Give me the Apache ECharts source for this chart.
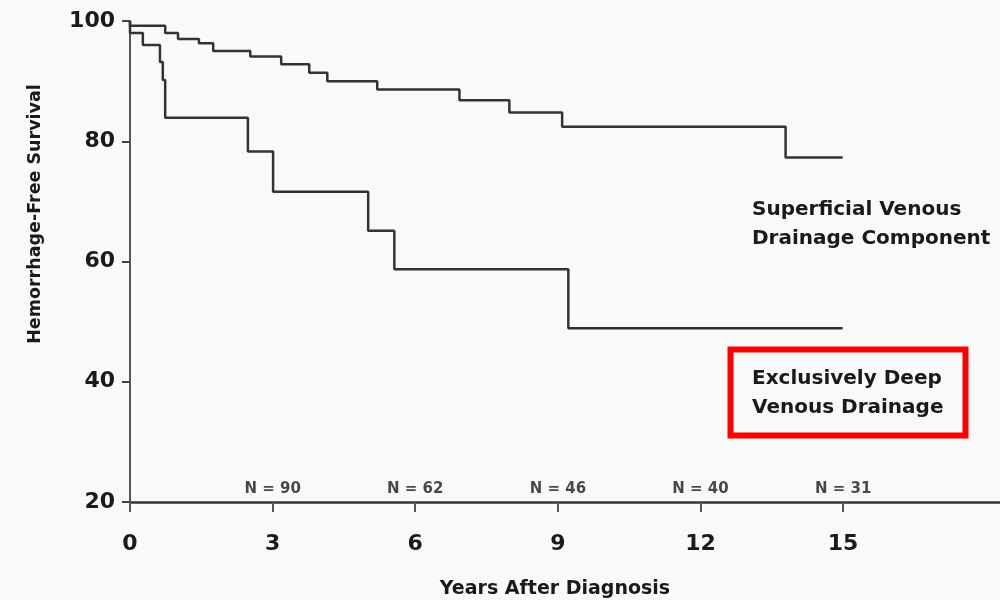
<!DOCTYPE html>
<html>
<head>
<meta charset="utf-8">
<script src="https://cdn.jsdelivr.net/npm/echarts@6/dist/echarts.min.js"></script>
<style>html,body{margin:0;padding:0;background:#f9f9f9;}#chart{width:1000px;height:600px;}</style>
</head>
<body>
<div id="chart"></div>
<script>
// Superficial venous drainage component (years, survival %)
const superficialYears = [0, 0, 0.74, 1.01, 1.45, 1.75, 2.53, 3.18, 3.77, 4.15, 5.20, 6.93, 7.98, 9.09, 13.79, 14.99];
const superficialValues = [100, 99.2, 98.0, 97.0, 96.3, 95.0, 94.1, 92.8, 91.4, 90.0, 88.6, 86.8, 84.8, 82.4, 77.3, 77.3];
// Exclusively deep venous drainage
const deepYears = [0, 0, 0.27, 0.63, 0.69, 0.74, 2.48, 3.01, 5.01, 5.56, 9.22, 14.99];
const deepValues = [100, 98.0, 96.0, 93.2, 90.2, 83.9, 78.3, 71.6, 65.1, 58.7, 48.9, 48.9];
// Numbers at risk
const atRiskYears = [3, 6, 9, 12, 15];
const atRiskN = [90, 62, 46, 40, 31];
const xTicks = [0, 3, 6, 9, 12, 15];
const seriesNames = ['Superficial Venous\nDrainage Component', 'Exclusively Deep\nVenous Drainage'];

const zip = (a, b) => a.map((v, i) => [v, b[i]]);
const FONT = 'DejaVu Sans';
const chart = echarts.init(document.getElementById('chart'), null, {renderer: 'canvas'});
chart.setOption({
  backgroundColor: '#f9f9f9',
  animation: false,
  grid: {left: 130, right: 0, top: 21, bottom: 98, containLabel: false, outerBoundsMode: 'none'},
  xAxis: {
    type: 'value', min: 0, max: 18.3, interval: 3,
    name: 'Years After Diagnosis', nameLocation: 'middle', nameGap: 78,
    nameTextStyle: {fontFamily: FONT, fontWeight: 'bold', fontSize: 19, color: '#1a1a1a', padding: [0, 20, 0, 0]},
    axisLine: {lineStyle: {color: '#333', width: 2.5}},
    axisTick: {show: true, length: 10, lineStyle: {color: '#555', width: 2}, customValues: xTicks},
    axisLabel: {fontFamily: FONT, fontWeight: 'bold', fontSize: 22, color: '#1a1a1a', margin: 31, customValues: xTicks},
    splitLine: {show: false}
  },
  yAxis: {
    type: 'value', min: 20, max: 100, interval: 20,
    name: 'Hemorrhage-Free Survival', nameLocation: 'middle', nameGap: 86,
    nameTextStyle: {fontFamily: FONT, fontWeight: 'bold', fontSize: 17.5, color: '#1a1a1a', padding: [0, 0, 0, 95]},
    axisLine: {show: true, lineStyle: {color: '#555', width: 2}},
    axisTick: {show: true, length: 8, lineStyle: {color: '#444', width: 2}},
    axisLabel: {fontFamily: FONT, fontWeight: 'bold', fontSize: 22, color: '#1a1a1a', margin: 15},
    splitLine: {show: false}
  },
  series: [
    {name: seriesNames[0], type: 'line', step: 'end', symbol: 'none', data: zip(superficialYears, superficialValues),
     lineStyle: {color: '#333333', width: 2.5}},
    {name: seriesNames[1], type: 'line', step: 'end', symbol: 'none', data: zip(deepYears, deepValues),
     lineStyle: {color: '#333333', width: 2.5}},
    {type: 'scatter', symbolSize: 0, data: atRiskYears.map((y, i) => [y, 20, atRiskN[i]]),
     label: {show: true, position: 'top', distance: 5, formatter: p => 'N = ' + p.value[2],
       fontFamily: FONT, fontWeight: 'bold', fontSize: 15, color: '#1a1a1a'}}
  ],
  graphic: [
    {type: 'text', left: 752, top: 195, style: {text: seriesNames[0], fontFamily: FONT, fontWeight: 'bold', fontSize: 20, lineHeight: 29, fill: '#1a1a1a'}},
    {type: 'rect', shape: {x: 730.5, y: 349.5, width: 235, height: 86}, style: {fill: 'none', stroke: '#ff0000', lineWidth: 6}},
    {type: 'text', left: 752, top: 364, style: {text: seriesNames[1], fontFamily: FONT, fontWeight: 'bold', fontSize: 20, lineHeight: 29, fill: '#1a1a1a'}}
  ]
});
</script>
</body>
</html>
